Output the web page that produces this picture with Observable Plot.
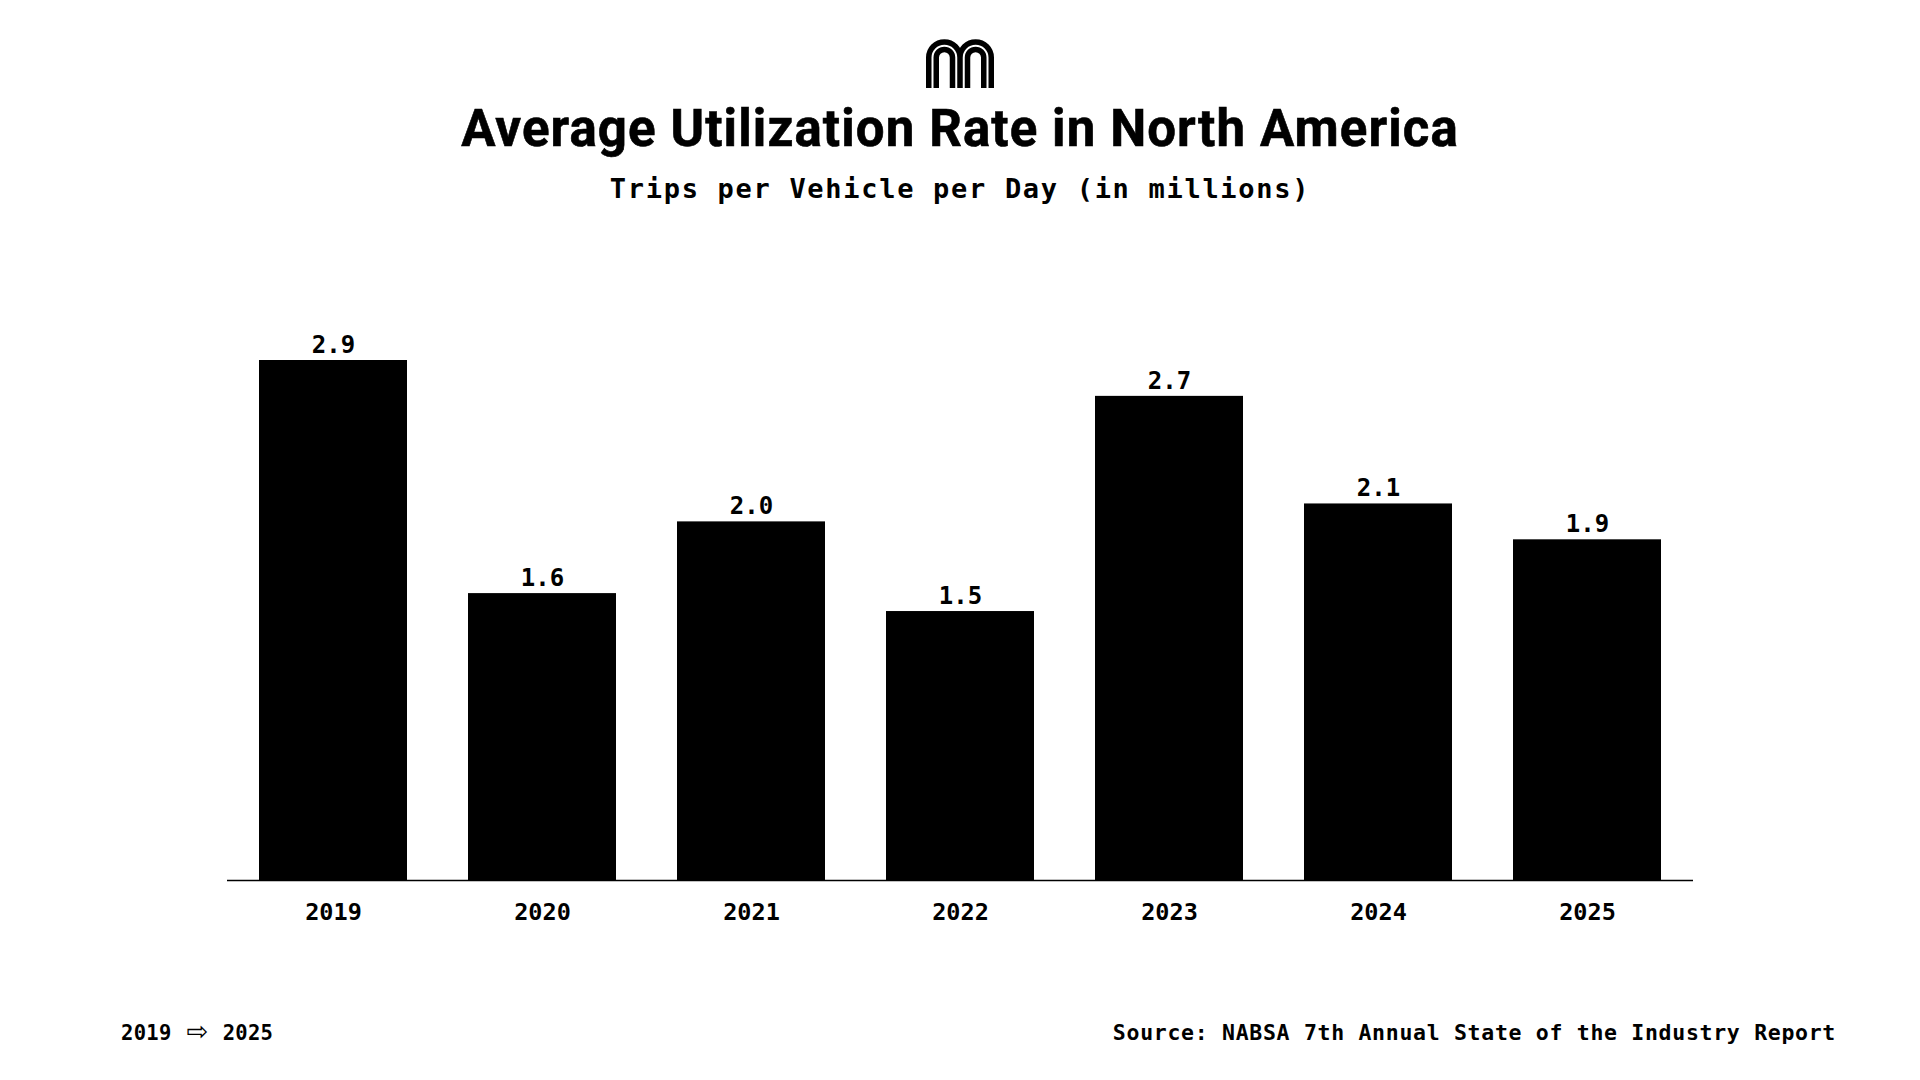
<!DOCTYPE html>
<html>
<head>
<meta charset="utf-8">
<script src="https://cdn.jsdelivr.net/npm/d3@7"></script>
<script src="https://cdn.jsdelivr.net/npm/@observablehq/plot@0.6"></script>
<style>
  html, body { margin: 0; padding: 0; background: #fff; }
  body { width: 1920px; height: 1080px; position: relative; overflow: hidden; color: #000; }
  .abs { position: absolute; white-space: nowrap; }
  #logo { left: 926px; top: 39px; }
  #title { left: 0; width: 1920px; top: 103px; text-align: center; font-family: Roboto, "Noto Sans", sans-serif; font-weight: 700; font-size: 51px; line-height: 51px; letter-spacing: 1.1px; -webkit-text-stroke: 0.6px #000; }
  #subtitle { left: 0; width: 1920px; top: 175px; text-align: center; font-family: "DejaVu Sans Mono", monospace; font-weight: 700; font-size: 27px; line-height: 27px; letter-spacing: 1.7px; }
  #chart { left: 0; top: 300px; }
  #chart text { font-family: "DejaVu Sans Mono", monospace; font-weight: 700; }
  #footleft { left: 121px; top: 1021px; font-family: "DejaVu Sans Mono", monospace; font-weight: 700; font-size: 20.5px; line-height: 20.5px; letter-spacing: 0.3px; }
  #footleft .arrow { font-family: "DejaVu Sans", sans-serif; font-weight: 400; font-size: 26px; margin: 0 14px 0 15px; }
  #source { right: 84px; top: 1022px; font-family: "DejaVu Sans Mono", monospace; font-weight: 700; font-size: 21.5px; line-height: 21.5px; letter-spacing: 0.7px; }
</style>
</head>
<body>
<svg id="logo" class="abs" width="68" height="49" viewBox="0 0 68 49">
  <g fill="none" stroke="#000" stroke-width="5.5">
    <path d="M2.75 49 V18.5 A15.6 15.6 0 0 1 34 18.5 V49 M34 18.5 A15.6 15.6 0 0 1 65.25 18.5 V49"/>
    <path d="M10.25 49 V18.5 A8.1 8.1 0 0 1 26.5 18.5 V49 M41.5 49 V18.5 A8.1 8.1 0 0 1 57.75 18.5 V49"/>
  </g>
</svg>
<div id="title" class="abs">Average Utilization Rate in North America</div>
<div id="subtitle" class="abs">Trips per Vehicle per Day (in millions)</div>
<div id="chart" class="abs"></div>
<div id="footleft" class="abs"><span>2019</span><span class="arrow">⇨</span><span>2025</span></div>
<div id="source" class="abs">Source: NABSA 7th Annual State of the Industry Report</div>
<script>
const years = ["2019", "2020", "2021", "2022", "2023", "2024", "2025"];
const values = [2.9, 1.6, 2.0, 1.5, 2.7, 2.1, 1.9];

const data = years.map((year, i) => ({year, value: values[i]}));

const chart = Plot.plot({
  width: 1920,
  height: 660,
  marginLeft: 227,
  marginRight: 227,
  marginTop: 60,
  marginBottom: 80,
  style: {background: "transparent", overflow: "visible"},
  x: {domain: years, paddingInner: 0.29, paddingOuter: 0.15, label: null},
  y: {domain: [0, d3.max(values)], axis: null},
  marks: [
    Plot.barY(data, {x: "year", y: "value", fill: "#000"}),
    Plot.ruleY([0], {stroke: "#000", strokeWidth: 1.5}),
    Plot.text(data, {
      x: "year", y: "value",
      text: d => d.value.toFixed(1),
      lineAnchor: "middle",
      dy: -15.5,
      fontSize: 24,
      fill: "#000",
      style: "letter-spacing:0.8px"
    }),
    Plot.axisX({tickSize: 0, tickPadding: 23, fontSize: 23.5, label: null, fill: "#000", style: "letter-spacing:1px"})
  ]
});
document.getElementById("chart").appendChild(chart);
</script>
</body>
</html>
